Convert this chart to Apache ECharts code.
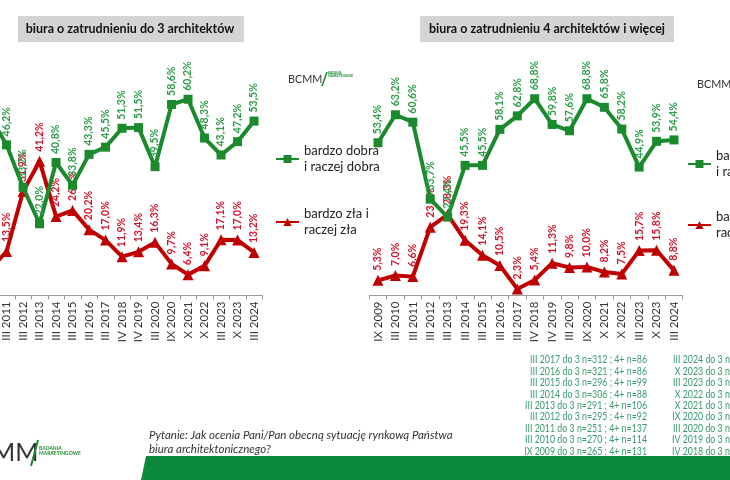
<!DOCTYPE html>
<html>
<head>
<meta charset="utf-8">
<script src="https://cdn.jsdelivr.net/npm/echarts@6/dist/echarts.min.js"></script>
<style>
html, body { margin: 0; padding: 0; background: #fff; }
#chart { width: 730px; height: 480px; }
</style>
</head>
<body>
<div id="chart"></div>
<script>
// survey waves (the first two of the left chart fall outside the crop)
var categories = ['IX 2009', 'III 2010', 'III 2011', 'III 2012', 'III 2013', 'III 2014', 'III 2015', 'III 2016', 'III 2017',
	'IV 2018', 'IV 2019', 'III 2020', 'IX 2020', 'X 2021', 'X 2022', 'III 2023', 'X 2023', 'III 2024'];

// biura do 3 architektów
var goodSmall = [50.0, 55.0, 46.2, 33.2, 22.0, 40.8, 33.8, 43.3, 45.5, 51.3, 51.5, 39.5, 58.6, 60.2, 48.3, 43.1, 47.2, 53.5];
var badSmall = [12.0, 8.0, 13.5, 31.9, 41.2, 24.2, 26.1, 20.2, 17.0, 11.9, 13.4, 16.3, 9.7, 6.4, 9.1, 17.1, 17.0, 13.2];

// biura 4 architektów i więcej
var goodLarge = [53.4, 63.2, 60.6, 33.7, 27.4, 45.5, 45.5, 58.1, 62.8, 68.8, 59.8, 57.6, 68.8, 65.8, 58.2, 44.9, 53.9, 54.4];
var badLarge = [5.3, 7.0, 6.6, 23.9, 28.3, 19.3, 14.1, 10.5, 2.3, 5.4, 11.3, 9.8, 10.0, 8.2, 7.5, 15.7, 15.8, 8.8];

var seriesNames = ['bardzo dobra\ni raczej dobra', 'bardzo zła i\nraczej zła'];
var titles = ['biura o zatrudnieniu do 3 architektów', 'biura o zatrudnieniu 4 architektów i więcej'];

var notesLeft = ['III 2017 do 3 n=312 ; 4+ n=86', 'III 2016 do 3 n=321 ; 4+ n=86', 'III 2015 do 3 n=296 ; 4+ n=99',
	'III 2014 do 3 n=306 ; 4+ n=88', 'III 2013 do 3 n=291 ; 4+ n=106', 'III 2012 do 3 n=295 ; 4+ n=92',
	'III 2011 do 3 n=251 ; 4+ n=137', 'III 2010 do 3 n=270 ; 4+ n=114', 'IX 2009 do 3 n=265 ; 4+ n=131'];
var notesRight = ['III 2024 do 3 n=', 'X 2023 do 3 n=', 'III 2023 do 3 n=', 'X 2022 do 3 n=', 'X 2021 do 3 n=',
	'IX 2020 do 3 n=', 'III 2020 do 3 n=', 'IV 2019 do 3 n=', 'IV 2018 do 3 n='];

var GREEN = '#1b8a2d', GREEN_TXT = '#2a9c48', RED = '#c00000', RED_TXT = '#d0142c';
var FONT = 'Lato, "Liberation Sans", sans-serif';

function pct(p) {
	return p.value.toFixed(1).replace('.', ',') + '%';
}

function makeSeries(name, data, idx, isGood) {
	return {
		name: name,
		type: 'line',
		xAxisIndex: idx,
		yAxisIndex: idx,
		data: data,
		symbol: isGood ? 'rect' : 'triangle',
		symbolSize: isGood ? 9 : 11,
		lineStyle: { width: 4, color: isGood ? GREEN : RED },
		itemStyle: { color: isGood ? GREEN : RED },
		label: {
			show: true,
			position: 'top',
			distance: 4,
			rotate: 90,
			align: 'left',
			verticalAlign: 'middle',
			formatter: pct,
			color: isGood ? GREEN_TXT : RED_TXT,
			fontSize: 10.5,
			fontWeight: 'bold',
			fontFamily: FONT
		},
		z: isGood ? 3 : 2,
		animation: false
	};
}

function xAxisFor(idx) {
	return {
		type: 'category',
		gridIndex: idx,
		data: categories,
		axisLine: { lineStyle: { color: '#9a9a9a', width: 1 } },
		axisTick: { show: true, length: 4, lineStyle: { color: '#9a9a9a' } },
		axisLabel: { rotate: 90, fontSize: 11.5, color: '#333', margin: 6, fontFamily: FONT, interval: 0 }
	};
}

function yAxisFor(idx, max) {
	return { type: 'value', gridIndex: idx, min: 0, max: max, show: false, splitLine: { show: false } };
}

// graphic decoration: title boxes, logos, footnotes, band
var graphics = [];
graphics.push({ type: 'rect', shape: { x: 18, y: 16, width: 226, height: 26 }, style: { fill: '#d4d4d4' } });
graphics.push({ type: 'text', x: 130, y: 29, style: { text: titles[0], font: 'bold 12.5px ' + FONT, fill: '#111', align: 'center', verticalAlign: 'middle' } });
graphics.push({ type: 'rect', shape: { x: 420, y: 16, width: 254, height: 26 }, style: { fill: '#d4d4d4' } });
graphics.push({ type: 'text', x: 547, y: 29, style: { text: titles[1], font: 'bold 12.5px ' + FONT, fill: '#111', align: 'center', verticalAlign: 'middle' } });

function logo(x, y) {
	graphics.push({ type: 'text', x: x, y: y, scaleX: 0.9, style: { text: 'BCMM', font: '12px ' + FONT, fill: '#333', verticalAlign: 'middle' } });
	graphics.push({ type: 'line', shape: { x1: x + 39, y1: y - 7, x2: x + 34, y2: y + 7 }, style: { stroke: GREEN, lineWidth: 1.5 } });
	graphics.push({ type: 'text', x: x + 40, y: y - 4, style: { text: 'BADANIA\nMARKETINGOWE', font: 'bold 3px ' + FONT, fill: GREEN, verticalAlign: 'middle', lineHeight: 3 } });
}
logo(288, 79);
logo(697, 84);

notesLeft.forEach(function(t, i) {
	graphics.push({ type: 'text', x: 647, y: 360 + i * 11.4, scaleX: 0.84, style: { text: t, font: '10.5px ' + FONT, fill: '#3a9a6e', align: 'right', verticalAlign: 'middle' } });
});
notesRight.forEach(function(t, i) {
	graphics.push({ type: 'text', x: 735, y: 360 + i * 11.4, scaleX: 0.84, style: { text: t, font: '10.5px ' + FONT, fill: '#3a9a6e', align: 'right', verticalAlign: 'middle' } });
});

graphics.push({ type: 'text', x: 149, y: 435, style: { text: 'Pytanie: Jak ocenia Pani/Pan obecną sytuację rynkową Państwa', font: 'italic 11.5px ' + FONT, fill: '#333', verticalAlign: 'middle' } });
graphics.push({ type: 'text', x: 149, y: 449, style: { text: 'biura architektonicznego?', font: 'italic 11.5px ' + FONT, fill: '#333', verticalAlign: 'middle' } });

// bottom-left logo, cut by the crop
graphics.push({ type: 'text', x: -8, y: 453, style: { text: 'MM', font: '25px ' + FONT, fill: '#333', verticalAlign: 'middle' } });
graphics.push({ type: 'line', shape: { x1: 38, y1: 440, x2: 31, y2: 466 }, style: { stroke: GREEN, lineWidth: 2 } });
graphics.push({ type: 'text', x: 39, y: 451, style: { text: 'BADANIA\nMARKETINGOWE', font: 'bold 5px ' + FONT, fill: GREEN, verticalAlign: 'middle', lineHeight: 5 } });

graphics.push({ type: 'polygon', shape: { points: [[146, 456], [730, 456], [730, 480], [141, 480]] }, style: { fill: '#0a8a3a' }, z: 10 });

var legendBase = {
	orient: 'vertical',
	data: seriesNames,
	itemWidth: 23,
	itemHeight: 10,
	textStyle: { fontSize: 13, color: '#222', fontFamily: FONT, lineHeight: 16, padding: [16, 0, 0, 0] },
	selectedMode: false
};

var chart = echarts.init(document.getElementById('chart'));
var option = {
	backgroundColor: '#fff',
	animation: false,
	legend: [
		Object.assign({}, legendBase, { left: 270, top: 130, itemGap: 15 }),
		Object.assign({}, legendBase, { left: 682, top: 135, itemGap: 13 })
	],
	grid: [
		{ left: -34.7, width: 297, top: 2.1, height: 293.4, outerBoundsMode: 'none' },
		{ left: 369.3, width: 313.4, top: 9.5, height: 286, outerBoundsMode: 'none' }
	],
	xAxis: [xAxisFor(0), xAxisFor(1)],
	yAxis: [yAxisFor(0, 90), yAxisFor(1, 100)],
	series: [
		makeSeries(seriesNames[0], goodSmall, 0, true),
		makeSeries(seriesNames[1], badSmall, 0, false),
		makeSeries(seriesNames[0], goodLarge, 1, true),
		makeSeries(seriesNames[1], badLarge, 1, false)
	],
	graphic: graphics
};
chart.setOption(option);
</script>
</body>
</html>
